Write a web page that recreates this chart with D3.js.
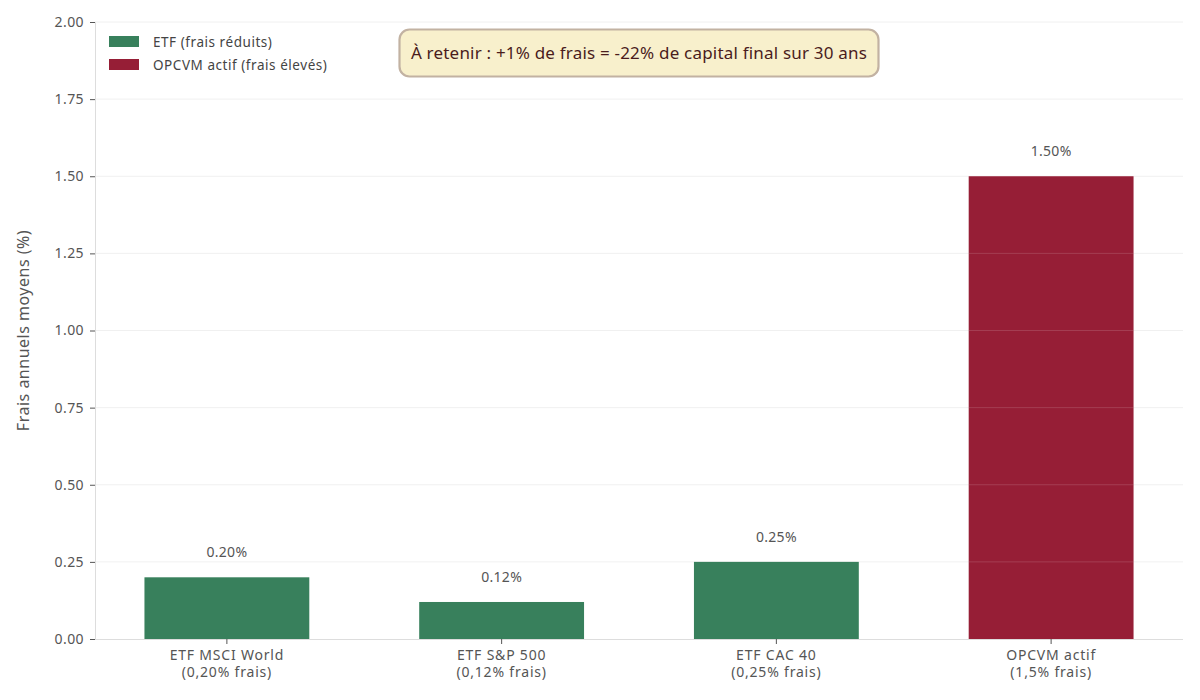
<!DOCTYPE html>
<html><head><meta charset="utf-8">
<script src="https://cdn.jsdelivr.net/npm/d3@7"></script>
<style>
body{margin:0;background:#fff;}
svg{font-family:"Noto Sans",sans-serif;}
</style></head><body>
<svg id="chart" width="1200" height="700"></svg>
<script>
const categories = ["ETF MSCI World", "ETF S&P 500", "ETF CAC 40", "OPCVM actif"];
const subLabels = ["(0,20% frais)", "(0,12% frais)", "(0,25% frais)", "(1,5% frais)"];
const fees = [0.20, 0.12, 0.25, 1.50];
const groups = ["etf", "etf", "etf", "opcvm"];
const yTicks = [0, 0.25, 0.5, 0.75, 1.0, 1.25, 1.5, 1.75, 2.0];
const legendLabels = ["ETF (frais réduits)", "OPCVM actif (frais élevés)"];
const annotation = "À retenir : +1% de frais = -22% de capital final sur 30 ans";
const yLabel = "Frais annuels moyens (%)";

const FONT = "'Noto Sans',sans-serif";
const colors = {etf: "#38805c", opcvm: "#961e36"};
const svg = d3.select("#chart");
const L = 95, R = 1183, T = 22, B = 639;

const x = d3.scaleBand().domain(categories).range([L, R]).paddingInner(0.4).paddingOuter(0.18);
const y = d3.scaleLinear().domain([0, 2]).range([B, T]);

// grid
svg.append("g").selectAll("line").data(yTicks.filter(d => d > 0)).join("line")
  .attr("x1", L).attr("x2", R).attr("y1", d => y(d)).attr("y2", d => y(d))
  .attr("stroke", "#ececec").attr("stroke-width", 0.8);

// bars
svg.append("g").selectAll("rect").data(fees).join("rect")
  .attr("x", (d, i) => x(categories[i])).attr("width", x.bandwidth())
  .attr("y", d => y(d)).attr("height", d => y(0) - y(d))
  .attr("fill", (d, i) => colors[groups[i]]);

// gridlines faintly over bars
svg.append("g").selectAll("line").data(yTicks.filter(d => d > 0 && d < 1.5)).join("line")
  .attr("x1", x(categories[3])).attr("x2", x(categories[3]) + x.bandwidth())
  .attr("y1", d => y(d)).attr("y2", d => y(d))
  .attr("stroke", "#ffffff").attr("stroke-opacity", 0.18).attr("stroke-width", 0.8);

// value labels
svg.append("g").selectAll("text").data(fees).join("text")
  .attr("x", (d, i) => x(categories[i]) + x.bandwidth() / 2)
  .attr("y", d => y(d) - 20)
  .attr("text-anchor", "middle").attr("font-size", 14).attr("letter-spacing", 0.3).attr("fill", "#555")
  .text(d => d.toFixed(2) + "%");

// axes
const yAxis = svg.append("g").attr("transform", `translate(${L},0)`)
  .call(d3.axisLeft(y).tickValues(yTicks).tickFormat(d3.format(".2f")).tickSize(5).tickPadding(6));
yAxis.select(".domain").attr("stroke", "#dddddd");
yAxis.selectAll(".tick line").attr("stroke", "#555");
yAxis.selectAll(".tick text").attr("font-size", 14).attr("letter-spacing", 0.4).attr("fill", "#555").attr("font-family", FONT);

const xAxis = svg.append("g").attr("transform", `translate(0,${B})`)
  .call(d3.axisBottom(x).tickSize(5).tickFormat(""));
xAxis.select(".domain").attr("stroke", "#dddddd").attr("d", `M${L},0.5H${R}`);
xAxis.selectAll(".tick line").attr("stroke", "#555");
xAxis.selectAll(".tick").each(function(d, i) {
  const t = d3.select(this).append("text").attr("fill", "#555").attr("font-size", 14)
    .attr("letter-spacing", 0.8).attr("text-anchor", "middle").attr("font-family", FONT);
  t.append("tspan").attr("x", 0).attr("y", 21).text(categories[i]);
  t.append("tspan").attr("x", 0).attr("y", 38).text(subLabels[i]);
});

// y label
svg.append("text").attr("transform", `translate(29,${(T + B) / 2}) rotate(-90)`)
  .attr("text-anchor", "middle").attr("font-size", 16).attr("letter-spacing", 0.5)
  .attr("fill", "#555").text(yLabel);

// legend
const lg = svg.append("g");
["etf", "opcvm"].forEach((k, i) => {
  lg.append("rect").attr("x", 109).attr("y", 36 + i * 23).attr("width", 30).attr("height", 11).attr("fill", colors[k]);
  lg.append("text").attr("x", 153).attr("y", 46.5 + i * 23).attr("font-size", 13.5).attr("letter-spacing", 0.55)
    .attr("fill", "#444").text(legendLabels[i]);
});

// annotation
const ann = svg.append("g");
ann.append("rect").attr("x", 399.5).attr("y", 29.5).attr("width", 479).attr("height", 47).attr("rx", 10)
  .attr("fill", "#f8f0cc").attr("stroke", "#c2b2a2").attr("stroke-width", 2.2);
ann.append("text").attr("x", 639).attr("y", 59).attr("text-anchor", "middle").attr("font-size", 17)
  .attr("letter-spacing", 0.2).attr("fill", "#4a1c1c").text(annotation);
</script></body></html>
